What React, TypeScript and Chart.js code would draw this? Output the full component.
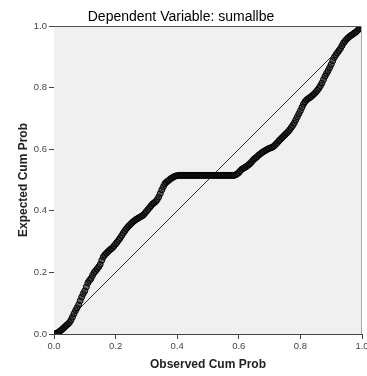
import React, { useEffect, useRef } from "react";
import { Chart, registerables } from "chart.js";

Chart.register(...registerables);

const chartTitle = "Dependent Variable: sumallbe";
const xAxisTitle = "Observed Cum Prob";
const yAxisTitle = "Expected Cum Prob";
const tickLabels = ["0.0", "0.2", "0.4", "0.6", "0.8", "1.0"];

const observedCumProb = [
  0.0, 0.005, 0.01, 0.015, 0.02, 0.025, 0.03, 0.035, 0.04, 0.045,
  0.05, 0.055, 0.06, 0.065, 0.07, 0.075, 0.08, 0.085, 0.09, 0.095,
  0.1, 0.105, 0.11, 0.115, 0.12, 0.125, 0.13, 0.135, 0.14, 0.145,
  0.15, 0.155, 0.16, 0.165, 0.17, 0.175, 0.18, 0.185, 0.19, 0.195,
  0.2, 0.205, 0.21, 0.215, 0.22, 0.225, 0.23, 0.235, 0.24, 0.245,
  0.25, 0.255, 0.26, 0.265, 0.27, 0.275, 0.28, 0.285, 0.29, 0.295,
  0.3, 0.305, 0.31, 0.315, 0.32, 0.325, 0.33, 0.335, 0.34, 0.345,
  0.35, 0.355, 0.36, 0.365, 0.37, 0.375, 0.38, 0.385, 0.39, 0.395,
  0.4, 0.405, 0.41, 0.415, 0.42, 0.425, 0.43, 0.435, 0.44, 0.445,
  0.45, 0.455, 0.46, 0.465, 0.47, 0.475, 0.48, 0.485, 0.49, 0.495,
  0.5, 0.505, 0.51, 0.515, 0.52, 0.525, 0.53, 0.535, 0.54, 0.545,
  0.55, 0.555, 0.56, 0.565, 0.57, 0.575, 0.58, 0.585, 0.59, 0.595,
  0.6, 0.605, 0.61, 0.615, 0.62, 0.625, 0.63, 0.635, 0.64, 0.645,
  0.65, 0.655, 0.66, 0.665, 0.67, 0.675, 0.68, 0.685, 0.69, 0.695,
  0.7, 0.705, 0.71, 0.715, 0.72, 0.725, 0.73, 0.735, 0.74, 0.745,
  0.75, 0.755, 0.76, 0.765, 0.77, 0.775, 0.78, 0.785, 0.79, 0.795,
  0.8, 0.805, 0.81, 0.815, 0.82, 0.825, 0.83, 0.835, 0.84, 0.845,
  0.85, 0.855, 0.86, 0.865, 0.87, 0.875, 0.88, 0.885, 0.89, 0.895,
  0.9, 0.905, 0.91, 0.915, 0.92, 0.925, 0.93, 0.935, 0.94, 0.945,
  0.95, 0.955, 0.96, 0.965, 0.97, 0.975, 0.98, 0.985, 0.99, 0.995,
  1.0,
];

const expectedCumProb = [
  0.0, 0.001, 0.003, 0.006, 0.01, 0.014, 0.018, 0.023, 0.028, 0.032,
  0.037, 0.045, 0.055, 0.066, 0.076, 0.085, 0.095, 0.108, 0.12, 0.131,
  0.14, 0.153, 0.166, 0.174, 0.18, 0.19, 0.199, 0.205, 0.211, 0.218,
  0.226, 0.239, 0.25, 0.257, 0.262, 0.267, 0.272, 0.276, 0.28, 0.286,
  0.292, 0.298, 0.305, 0.312, 0.32, 0.328, 0.335, 0.342, 0.348, 0.353,
  0.358, 0.363, 0.367, 0.371, 0.374, 0.377, 0.38, 0.383, 0.386, 0.392,
  0.398, 0.404, 0.41, 0.416, 0.422, 0.426, 0.43, 0.436, 0.445, 0.456,
  0.468, 0.478, 0.488, 0.493, 0.497, 0.501, 0.505, 0.508, 0.511, 0.513,
  0.514, 0.515, 0.515, 0.515, 0.515, 0.515, 0.515, 0.515, 0.515, 0.515,
  0.515, 0.515, 0.515, 0.515, 0.515, 0.515, 0.515, 0.515, 0.515, 0.515,
  0.515, 0.515, 0.515, 0.515, 0.515, 0.515, 0.515, 0.515, 0.515, 0.515,
  0.515, 0.515, 0.515, 0.515, 0.515, 0.515, 0.515, 0.515, 0.517, 0.52,
  0.524, 0.53, 0.535, 0.538, 0.541, 0.544, 0.548, 0.552, 0.557, 0.563,
  0.568, 0.572, 0.576, 0.581, 0.585, 0.589, 0.592, 0.595, 0.598, 0.601,
  0.603, 0.605, 0.607, 0.611, 0.616, 0.621, 0.627, 0.632, 0.637, 0.642,
  0.647, 0.652, 0.657, 0.663, 0.67, 0.677, 0.685, 0.695, 0.705, 0.715,
  0.725, 0.736, 0.746, 0.754, 0.76, 0.764, 0.767, 0.771, 0.775, 0.78,
  0.785, 0.791, 0.798, 0.806, 0.815, 0.826, 0.837, 0.846, 0.855, 0.865,
  0.875, 0.887, 0.898, 0.906, 0.913, 0.92, 0.927, 0.936, 0.945, 0.951,
  0.957, 0.962, 0.966, 0.97, 0.973, 0.977, 0.98, 0.985, 0.99, 0.995,
  1.0,
];

const diagonalX = [0, 1];
const diagonalY = [0, 1];

const FONT = "'Liberation Sans', Arial, Helvetica, sans-serif";

const plotFrame = {
  id: "plotFrame",
  beforeDatasetsDraw(chart: any) {
    const { ctx, chartArea } = chart;
    const { left, top, right, bottom } = chartArea;
    ctx.save();
    ctx.fillStyle = "#f0f0f0";
    ctx.fillRect(left, top, right - left, bottom - top);
    ctx.restore();
  },
  afterDraw(chart: any) {
    const { ctx, chartArea } = chart;
    const { left, top, right, bottom } = chartArea;
    ctx.save();
    ctx.lineWidth = 1;
    ctx.strokeStyle = "#555555";
    ctx.beginPath();
    ctx.moveTo(left, top + 0.5);
    ctx.lineTo(right, top + 0.5);
    ctx.stroke();
    ctx.strokeStyle = "#a8a8a8";
    ctx.beginPath();
    ctx.moveTo(right - 0.5, top);
    ctx.lineTo(right - 0.5, bottom);
    ctx.stroke();
    ctx.restore();
  },
};

export default function App() {
  const canvasRef = useRef<HTMLCanvasElement | null>(null);

  useEffect(() => {
    if (!canvasRef.current) return;
    const points = observedCumProb.map((x, i) => ({ x, y: expectedCumProb[i] }));
    const diag = diagonalX.map((x, i) => ({ x, y: diagonalY[i] }));

    const tickFont = { family: FONT, size: 9.5 };
    const axisCommon = (title: string, isX: boolean) => ({
      type: "linear" as const,
      min: 0,
      max: 1,
      ticks: {
        stepSize: 0.2,
        font: tickFont,
        color: "#444444",
        padding: 2,
        maxRotation: 0,
        autoSkip: false,
        callback: (_v: any, i: number) => tickLabels[i],
      },
      grid: {
        drawOnChartArea: false,
        drawTicks: true,
        tickLength: 5,
        color: "#444444",
      },
      border: { display: true, color: "#444444", width: 1 },
      title: {
        display: true,
        text: title,
        color: "#222222",
        font: { family: FONT, size: 12, weight: "bold" as const },
        padding: isX ? { top: 4, bottom: 4 } : { top: 16, bottom: 4 },
      },
      afterFit: (scale: any) => {
        if (isX) scale.height = 42;
        else scale.width = 54;
        scale.paddingLeft = 0;
        scale.paddingRight = 0;
        scale.paddingTop = 0;
        scale.paddingBottom = 0;
      },
    });

    const chart = new Chart(canvasRef.current, {
      type: "scatter",
      data: {
        datasets: [
          {
            type: "scatter",
            data: points,
            pointStyle: "circle",
            pointRadius: 3,
            pointBorderWidth: 1,
            borderColor: "rgba(0,0,0,1)",
            backgroundColor: "rgba(30,30,30,0.6)",
            order: 1,
          } as any,
          {
            type: "line",
            data: diag,
            borderColor: "#333333",
            borderWidth: 1,
            pointRadius: 0,
            fill: false,
            order: 2,
          } as any,
        ],
      },
      options: {
        responsive: false,
        animation: false,
        devicePixelRatio: 1,
        layout: { padding: { left: 0, right: 5, top: 0, bottom: 0 } },
        plugins: {
          legend: { display: false },
          tooltip: { enabled: false },
          title: {
            display: true,
            text: chartTitle,
            color: "#000000",
            font: { family: FONT, size: 14, weight: "normal" },
            padding: { top: 9, bottom: 0.2 },
          },
        },
        scales: {
          x: axisCommon(xAxisTitle, true),
          y: axisCommon(yAxisTitle, false),
        },
      } as any,
      plugins: [plotFrame],
    });
    return () => chart.destroy();
  }, []);

  return (
    <div style={{ position: "fixed", left: 0, top: 0, width: 367, height: 376, background: "#ffffff" }}>
      <canvas ref={canvasRef} width={367} height={376} />
    </div>
  );
}
